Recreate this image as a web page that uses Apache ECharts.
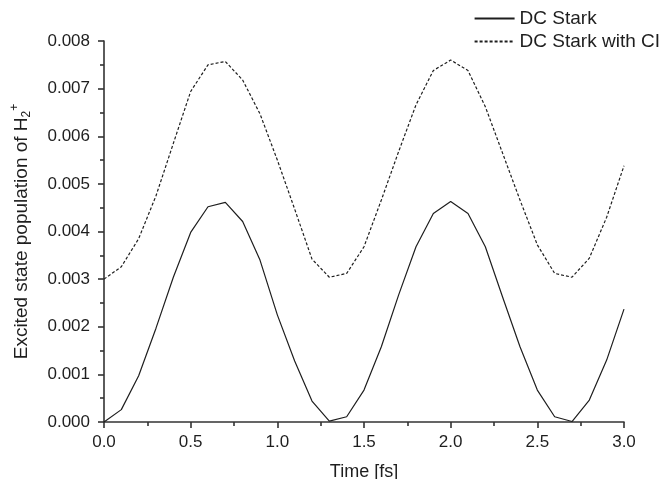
<!DOCTYPE html>
<html>
<head>
<meta charset="utf-8">
<script src="https://cdn.jsdelivr.net/npm/echarts@6/dist/echarts.min.js"></script>
<style>html,body{margin:0;padding:0;background:#fff}#c{width:663px;height:479px}</style>
</head>
<body>
<div id="c"></div>
<script>
const times = [0.0,0.1,0.2,0.3,0.4,0.5,0.6,0.7,0.8,0.9,1.0,1.1,1.2,1.3,1.4,1.5,1.6,1.7,1.8,1.9,2.0,2.1,2.2,2.3,2.4,2.5,2.6,2.7,2.8,2.9,3.0];
const dcStark = [0.00000,0.00026,0.00097,0.00197,0.00304,0.00398,0.00452,0.00461,0.00421,0.00340,0.00225,0.00128,0.00044,0.00002,0.00011,0.00067,0.00158,0.00267,0.00368,0.00438,0.00463,0.00438,0.00368,0.00262,0.00158,0.00067,0.00011,0.00001,0.00046,0.00130,0.00237];
const dcStarkCI = [0.00300,0.00326,0.00385,0.00475,0.00585,0.00694,0.00750,0.00757,0.00718,0.00647,0.00550,0.00447,0.00342,0.00304,0.00312,0.00368,0.00466,0.00568,0.00666,0.00738,0.00760,0.00738,0.00662,0.00564,0.00466,0.00372,0.00312,0.00304,0.00344,0.00430,0.00538];
const xTicks = {min:0, max:3, interval:0.5};
const yTicks = {min:0, max:0.008, interval:0.001};

const font = '"Liberation Sans", Arial, sans-serif';
const ink = '#1e1e1e';
const chart = echarts.init(document.getElementById('c'));
const pairs = ys => times.map((t,i)=>[t, ys[i]]);
chart.setOption({
  animation:false,
  backgroundColor:'#fff',
  textStyle:{fontFamily:font},
  grid:{left:104, right:39, top:41, bottom:57, containLabel:false, outerBoundsMode:'none'},
  legend:{
    orient:'vertical', right:3, top:9, padding:0, itemGap:4, itemWidth:40, itemHeight:12,
    itemStyle:{opacity:0},
    textStyle:{fontFamily:font, fontSize:19, color:ink, padding:[0,0,0,0]},
    data:['DC Stark','DC Stark with CI']
  },
  xAxis:{
    type:'value', min:xTicks.min, max:xTicks.max, interval:xTicks.interval,
    name:'Time [fs]', nameLocation:'middle', nameGap:41,
    nameTextStyle:{fontFamily:font, fontSize:18, color:ink},
    axisLine:{show:true, onZero:false, lineStyle:{color:'#333', width:1.6}},
    axisTick:{show:true, inside:false, length:6, lineStyle:{color:'#333', width:1.6}},
    minorTick:{show:true, splitNumber:2, length:4, lineStyle:{color:'#333', width:1.6}},
    splitLine:{show:false},
    axisLabel:{fontFamily:font, fontSize:17, color:ink, margin:12, formatter:v=>v.toFixed(1)}
  },
  yAxis:{
    type:'value', min:yTicks.min, max:yTicks.max, interval:yTicks.interval,
    name:'Excited state population of H{sub|2}{sup|+}', nameLocation:'middle', nameGap:70,
    nameTextStyle:{fontFamily:font, fontSize:19, color:ink,
      rich:{
        sub:{fontFamily:font, fontSize:12, color:ink, padding:[10,0,0,0]},
        sup:{fontFamily:font, fontSize:12, color:ink, padding:[0,0,13,0]}
      }},
    axisLine:{show:true, onZero:false, lineStyle:{color:'#333', width:1.6}},
    axisTick:{show:true, inside:false, length:6, lineStyle:{color:'#333', width:1.6}},
    minorTick:{show:true, splitNumber:2, length:4, lineStyle:{color:'#333', width:1.6}},
    splitLine:{show:false},
    axisLabel:{fontFamily:font, fontSize:17, color:ink, margin:14, formatter:v=>v.toFixed(3)}
  },
  series:[
    {name:'DC Stark', type:'line', data:pairs(dcStark), symbol:'none', smooth:false,
     itemStyle:{color:ink}, lineStyle:{color:ink, width:1.2, type:'solid'}},
    {name:'DC Stark with CI', type:'line', data:pairs(dcStarkCI), symbol:'none', smooth:false,
     itemStyle:{color:ink}, lineStyle:{color:ink, width:1.2, type:[3,2]}}
  ]
});
</script>
</body>
</html>
